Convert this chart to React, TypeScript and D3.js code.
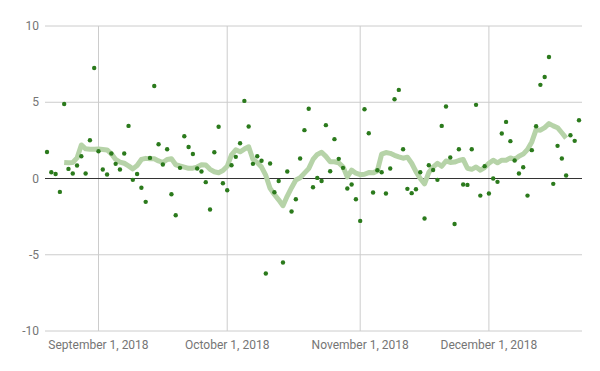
import React from "react";
import * as d3 from "d3";

// daily values, first point on Aug 20 2018
const startDate = new Date(Date.UTC(2018, 7, 20));
const pointValues = [
  1.74, 0.41, 0.3, -0.88, 4.89, 0.63, 0.33, 0.85, 1.46, 0.33, 2.51, 7.25, 1.79,
  0.59, 0.26, 1.64, 0.96, 0.59, 1.64, 3.45, -0.09, 0.3, -0.61, -1.53, 1.35, 6.07,
  2.25, 0.92, 1.92, -1.03, -2.41, 0.7, 2.77, 2.07, 1.61, 0.66, 0.46, -0.24, -2.03,
  1.72, 3.39, -0.31, -0.77, 0.87, 1.42, 2.31, 5.09, 3.41, 0.96, 1.46, 1.16, -6.23,
  0.98, -0.9, -0.16, -5.51, 0.46, -2.16, -1.36, 1.31, 3.17, 4.57, -0.57, 0.04,
  -0.16, 3.5, 0.48, 2.58, 1.29, 0.7, -0.66, -0.39, -1.36, -2.78, 4.54, 2.97, -0.92,
  0.54, 0.41, -0.98, 0.66, 5.2, 5.81, 1.92, -0.68, -0.96, -0.7, 0.41, -2.62, 0.87,
  0.56, -0.09, 3.45, 4.72, 1.38, -2.98, 1.92, -0.39, -0.42, 1.92, 4.83, -1.12, 0.81,
  -0.98, 0.0, -0.22, 2.95, 3.71, 2.45, 1.18, 0.33, 0.74, -1.12, 1.86, 3.43, 6.14,
  6.66, 7.97, -0.35, 2.14, 1.31, 0.2, 2.84, 2.47, 3.82,
];

// moving average line, starts on day 4 (Aug 24)
const avgStartDay = 4;
const avgValues = [
  1.05, 1.03, 1.05, 1.35, 2.2, 1.95, 1.92, 1.92, 1.93, 1.9, 1.87, 1.62, 1.25, 1.08,
  1.0, 0.83, 0.63, 0.85, 1.25, 1.32, 1.3, 1.3, 1.15, 1.05, 1.25, 1.3, 0.9, 0.82,
  0.75, 0.67, 0.68, 0.75, 0.9, 0.88, 0.6, 0.44, 0.38, 0.52, 0.8, 1.55, 1.88, 1.75,
  1.93, 2.08, 1.25, 1.05, 0.75, 0.2, -0.65, -1.05, -1.4, -1.78, -1.15, -0.6, -0.1,
  0.05, 0.35, 0.65, 1.25, 1.58, 1.72, 1.45, 1.1, 1.1, 1.02, 0.77, 0.1, 0.55, 0.35,
  0.25, 0.28, 0.39, 0.37, 0.5, 1.6, 1.7, 1.65, 1.52, 1.42, 1.33, 1.4, 1.0, 0.45, 0.0,
  -0.35, 0.4, 0.75, 1.0, 0.8, 1.15, 1.05, 1.08, 1.18, 1.25, 0.67, 0.6, 0.75, 0.55,
  0.72, 1.0, 1.2, 1.03, 1.2, 1.2, 1.35, 1.25, 1.46, 1.6, 1.9, 2.4, 3.2, 3.17, 3.34,
  3.6, 3.45, 3.33, 3.0, 2.65,
];

const xTickDates = [
  new Date(Date.UTC(2018, 8, 1)),
  new Date(Date.UTC(2018, 9, 1)),
  new Date(Date.UTC(2018, 10, 1)),
  new Date(Date.UTC(2018, 11, 1)),
];
const xTickLabels = [
  "September 1, 2018",
  "October 1, 2018",
  "November 1, 2018",
  "December 1, 2018",
];
const yTicks = [-10, -5, 0, 5, 10];

const width = 600,
  height = 371;
const margin = { top: 26, right: 18, bottom: 40, left: 45 };

const dayMs = 24 * 3600 * 1000;
const xScale = d3
  .scaleUtc()
  .domain([
    new Date(startDate.getTime() - 0.47 * dayMs),
    new Date(startDate.getTime() + 124.7 * dayMs),
  ])
  .range([margin.left, width - margin.right]);

const yScale = d3
  .scaleLinear()
  .domain([-10, 10])
  .range([height - margin.bottom, margin.top]);

const points = pointValues.map((v, i) => ({
  date: d3.utcDay.offset(startDate, i),
  value: v,
}));
const avgPoints = avgValues.map((v, i) => ({
  date: d3.utcDay.offset(startDate, avgStartDay + i),
  value: v,
}));

const avgLine = d3
  .line<{ date: Date; value: number }>()
  .x((d) => xScale(d.date))
  .y((d) => yScale(d.value));

export default function App() {
  const font = "Roboto, sans-serif";
  return (
    <svg
      width={width}
      height={height}
      style={{ position: "absolute", left: 0, top: 0, background: "#fff" }}
    >
      {/* horizontal gridlines */}
      {yTicks.map((t) => (
        <line
          key={"y" + t}
          x1={margin.left}
          x2={width - margin.right}
          y1={yScale(t)}
          y2={yScale(t)}
          stroke="#cccccc"
          strokeWidth={1}
        />
      ))}
      {/* vertical gridlines */}
      {xTickDates.map((d, i) => (
        <line
          key={"x" + i}
          x1={xScale(d)}
          x2={xScale(d)}
          y1={margin.top}
          y2={height - margin.bottom}
          stroke="#cccccc"
          strokeWidth={1}
        />
      ))}
      {/* zero baseline */}
      <line
        x1={margin.left}
        x2={width - margin.right}
        y1={yScale(0)}
        y2={yScale(0)}
        stroke="#333333"
        strokeWidth={1}
      />
      {/* y labels */}
      {yTicks.map((t) => (
        <text
          key={"yl" + t}
          x={margin.left - 6}
          y={yScale(t)}
          dy="0.35em"
          textAnchor="end"
          fontFamily={font}
          fontSize={12}
          fill="#757575"
        >
          {t}
        </text>
      ))}
      {/* x labels */}
      {xTickDates.map((d, i) => (
        <text
          key={"xl" + i}
          x={xScale(d)}
          y={height - margin.bottom + 18}
          textAnchor="middle"
          fontFamily={font}
          fontSize={12}
          fill="#757575"
        >
          {xTickLabels[i]}
        </text>
      ))}
      {/* moving average */}
      <path
        d={avgLine(avgPoints) || ""}
        fill="none"
        stroke="#b6d3a8"
        strokeWidth={5}
        strokeLinejoin="round"
      />
      {/* daily points */}
      {points.map((p, i) => (
        <circle
          key={i}
          cx={xScale(p.date)}
          cy={yScale(p.value)}
          r={2.2}
          fill="#2b7a1c"
        />
      ))}
    </svg>
  );
}
